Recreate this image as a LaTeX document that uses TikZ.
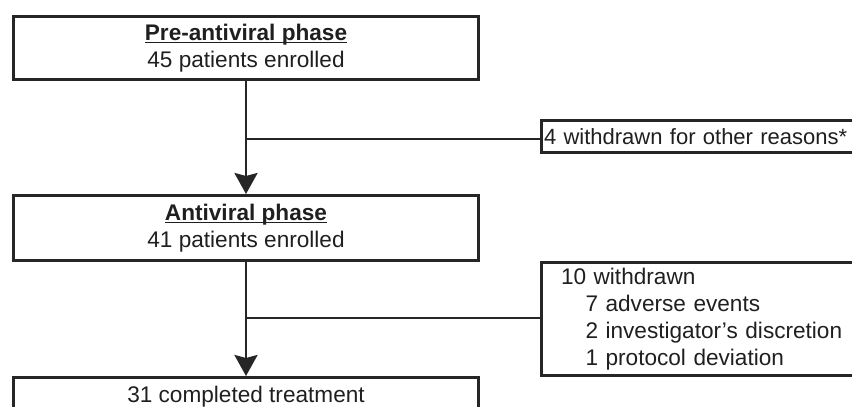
\documentclass[tikz,border=0pt]{standalone}
\usepackage{fontspec}
\setmainfont{Liberation Sans}
\usetikzlibrary{arrows.meta}
\newsavebox{\headbox}
\newcommand{\phasehead}[1]{\sbox\headbox{\bfseries #1}\rlap{\rule[-1.6pt]{\wd\headbox}{0.9pt}}\usebox\headbox}

\begin{document}
\begin{tikzpicture}[x=0.5pt, y=-0.5pt,
    every node/.style={font=\fontsize{11.3}{13.6}\selectfont, text=black!88},
    phasebox/.style={draw=black!85, line width=1.5pt, minimum width=232.5pt, align=center, inner sep=0pt},
    outbox/.style={draw=black!85, line width=1.5pt, anchor=west, text width=165pt, align=left, inner ysep=0pt},
    flow/.style={draw=black!85, line width=1.3pt, -{Stealth[length=10.5pt, width=11.5pt, inset=1.5pt]}},
    branch/.style={draw=black!85, line width=1.1pt}]
    % Page frame, right and bottom boxes run past it
    \useasboundingbox (0,0) rectangle (852,407);
    \clip (0,0) rectangle (852,407);

    % Phase boxes
    \node[phasebox, minimum height=31.5pt] (pre) at (246,48) {\phasehead{Pre-antiviral phase}\\45 patients enrolled};
    \node[phasebox, minimum height=32.5pt] (anti) at (246,228) {\phasehead{Antiviral phase}\\41 patients enrolled};
    \node[phasebox, minimum height=19pt] (done) at (246,396.5) {31 completed treatment};

    % Withdrawal boxes
    \node[outbox, minimum height=16pt, inner xsep=1.5pt, font=\fontsize{11}{13.6}\selectfont] (out1) at (539.5,136.5) {4 withdrawn for other reasons*};
    \node[outbox, minimum height=56.5pt, inner xsep=10pt] (out2) at (539.5,319)
        {10 withdrawn\\
         \hspace*{12.25pt}7 adverse events\\
         \hspace*{12.25pt}2 investigator’s discretion\\
         \hspace*{12.25pt}1 protocol deviation};

    % Branch points
    \coordinate (split1) at (246,139);
    \coordinate (split2) at (246,318);

    % Main flow
    \draw[flow] (pre) -- (anti);
    \draw[flow] (anti) -- (done);

    % Withdrawals
    \draw[branch] (split1) -- (split1 -| out1.west);
    \draw[branch] (split2) -- (split2 -| out2.west);
\end{tikzpicture}
\end{document}
